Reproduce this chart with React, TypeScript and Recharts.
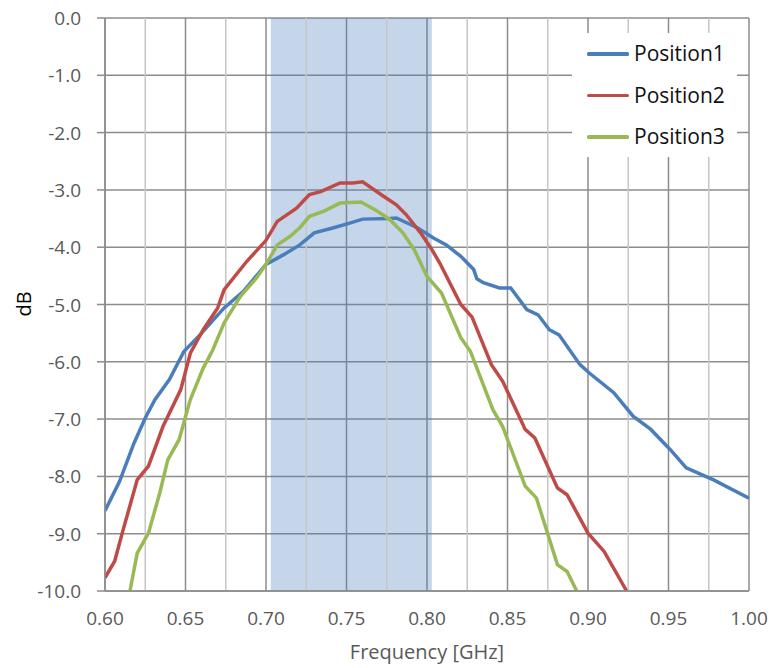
import React from 'react';
import { LineChart, Line, XAxis, YAxis, CartesianGrid, ReferenceArea, ReferenceLine, Label } from 'recharts';

const FONT = '"Open Sans", "DejaVu Sans", sans-serif';

// frequency [GHz] / level [dB]
const pos1Freq = [0.600, 0.609, 0.618, 0.625, 0.631, 0.640, 0.649, 0.659, 0.674, 0.686, 0.700, 0.711, 0.721, 0.730, 0.742, 0.752, 0.760, 0.777, 0.781, 0.794, 0.804, 0.812, 0.821, 0.829, 0.831, 0.835, 0.845, 0.852, 0.862, 0.869, 0.876, 0.882, 0.895, 0.901, 0.916, 0.928, 0.939, 0.951, 0.961, 0.978, 1.000];
const pos1Db = [-8.60, -8.09, -7.42, -6.98, -6.66, -6.31, -5.82, -5.53, -5.06, -4.77, -4.30, -4.13, -3.96, -3.75, -3.66, -3.58, -3.51, -3.50, -3.49, -3.66, -3.84, -3.96, -4.16, -4.39, -4.55, -4.62, -4.71, -4.71, -5.09, -5.18, -5.44, -5.53, -6.05, -6.20, -6.54, -6.95, -7.18, -7.53, -7.85, -8.06, -8.38];

const pos2Freq = [0.600, 0.606, 0.611, 0.620, 0.627, 0.636, 0.647, 0.653, 0.661, 0.670, 0.674, 0.688, 0.700, 0.707, 0.719, 0.727, 0.734, 0.746, 0.754, 0.760, 0.773, 0.781, 0.787, 0.796, 0.803, 0.808, 0.821, 0.828, 0.840, 0.847, 0.861, 0.867, 0.881, 0.887, 0.900, 0.910, 0.924];
const pos2Db = [-9.77, -9.48, -8.96, -8.06, -7.82, -7.13, -6.49, -5.85, -5.44, -5.06, -4.74, -4.25, -3.88, -3.55, -3.32, -3.08, -3.03, -2.88, -2.88, -2.86, -3.11, -3.26, -3.43, -3.75, -4.04, -4.28, -5.00, -5.22, -6.05, -6.34, -7.18, -7.33, -8.20, -8.32, -8.99, -9.31, -10.0];

const pos3Freq = [0.6155, 0.620, 0.627, 0.634, 0.639, 0.646, 0.653, 0.661, 0.667, 0.674, 0.684, 0.694, 0.700, 0.707, 0.715, 0.721, 0.727, 0.736, 0.746, 0.759, 0.769, 0.777, 0.785, 0.792, 0.800, 0.809, 0.821, 0.827, 0.841, 0.847, 0.861, 0.868, 0.881, 0.887, 0.893];
const pos3Db = [-10.0, -9.34, -8.99, -8.29, -7.71, -7.36, -6.66, -6.11, -5.79, -5.32, -4.86, -4.54, -4.30, -3.96, -3.81, -3.66, -3.46, -3.37, -3.23, -3.21, -3.37, -3.52, -3.75, -4.04, -4.51, -4.80, -5.58, -5.82, -6.84, -7.13, -8.17, -8.38, -9.54, -9.66, -10.0];

const seriesNames = ['Position1', 'Position2', 'Position3'];
const seriesColors = ['#4a7ebb', '#be4b48', '#98b954'];

const freqTicks = [0.60, 0.65, 0.70, 0.75, 0.80, 0.85, 0.90, 0.95, 1.00];
const freqMinor = [0.625, 0.675, 0.725, 0.775, 0.825, 0.875, 0.925, 0.975];
const dbTicks = [0, -1, -2, -3, -4, -5, -6, -7, -8, -9, -10];

// highlighted band
const bandStart = 0.703;
const bandEnd = 0.803;

function toPoints(freq: number[], db: number[]) {
  return freq.map((f, i) => ({ f, v: db[i] }));
}

const series = [
  toPoints(pos1Freq, pos1Db),
  toPoints(pos2Freq, pos2Db),
  toPoints(pos3Freq, pos3Db),
];

const XTick = (props: any) => {
  const { x, y, payload } = props;
  return (
    <text x={x} y={y + 14} textAnchor="middle" fill="#595959" fontSize={19} fontFamily={FONT}>
      {Number(payload.value).toFixed(2)}
    </text>
  );
};

const YTick = (props: any) => {
  const { x, y, payload } = props;
  return (
    <text x={x} y={y + 7} textAnchor="end" fill="#595959" fontSize={19} fontFamily={FONT}>
      {Number(payload.value).toFixed(1)}
    </text>
  );
};

export default function App() {
  return (
    <div style={{ position: 'absolute', left: 0, top: 0, width: 775, height: 668, background: '#fff', fontFamily: FONT }}>
      <LineChart width={775} height={668} margin={{ top: 18, right: 26, bottom: 0, left: 0 }}>
        <CartesianGrid stroke="#8c8c8c" strokeWidth={1.5} />
        <ReferenceArea x1={bandStart} x2={bandEnd} y1={-10} y2={0} fill="#4f81bd" fillOpacity={0.32} stroke="none" />
        {freqMinor.map((t) => (
          <ReferenceLine key={t} x={t} stroke="#c6c6c6" strokeWidth={1.5} />
        ))}
        <XAxis
          type="number"
          dataKey="f"
          domain={[0.6, 1.0]}
          ticks={freqTicks}
          allowDataOverflow
          height={77}
          tickLine={false}
          tickSize={8}
          tickMargin={12}
          axisLine={{ stroke: '#8c8c8c', strokeWidth: 1.5 }}
          tick={<XTick />}
        >
          <Label
            content={() => (
              <text x={427} y={659} textAnchor="middle" fill="#595959" fontSize={20} fontFamily={FONT}>
                Frequency [GHz]
              </text>
            )}
          />
        </XAxis>
        <YAxis
          type="number"
          domain={[-10, 0]}
          ticks={dbTicks}
          allowDataOverflow
          width={105}
          tickSize={8}
          tickMargin={16}
          tickLine={{ stroke: '#8c8c8c', strokeWidth: 1.5 }}
          axisLine={{ stroke: '#8c8c8c', strokeWidth: 1.5 }}
          tick={<YTick />}
        >
          <Label
            content={() => (
              <text x={31} y={304} textAnchor="middle" fill="#000" fontSize={20} fontFamily={FONT} transform="rotate(-90 31 304)">
                dB
              </text>
            )}
          />
        </YAxis>
        {series.map((pts, i) => (
          <Line
            key={seriesNames[i]}
            data={pts}
            dataKey="v"
            name={seriesNames[i]}
            type="linear"
            stroke={seriesColors[i]}
            strokeWidth={3.5}
            dot={false}
            activeDot={false}
            isAnimationActive={false}
          />
        ))}
      </LineChart>
      <div
        style={{
          position: 'absolute',
          left: 572,
          top: 33,
          width: 165,
          height: 124,
          background: '#fff',
        }}
      >
        {seriesNames.map((name, i) => (
          <div key={name} style={{ display: 'flex', alignItems: 'center', height: 41.5 }}>
            <div style={{ marginLeft: 15, width: 42, height: 3.5, background: seriesColors[i], borderRadius: 1.5 }} />
            <span style={{ marginLeft: 5, fontSize: 21, color: '#111', fontFamily: FONT, lineHeight: 1 }}>{name}</span>
          </div>
        ))}
      </div>
    </div>
  );
}
